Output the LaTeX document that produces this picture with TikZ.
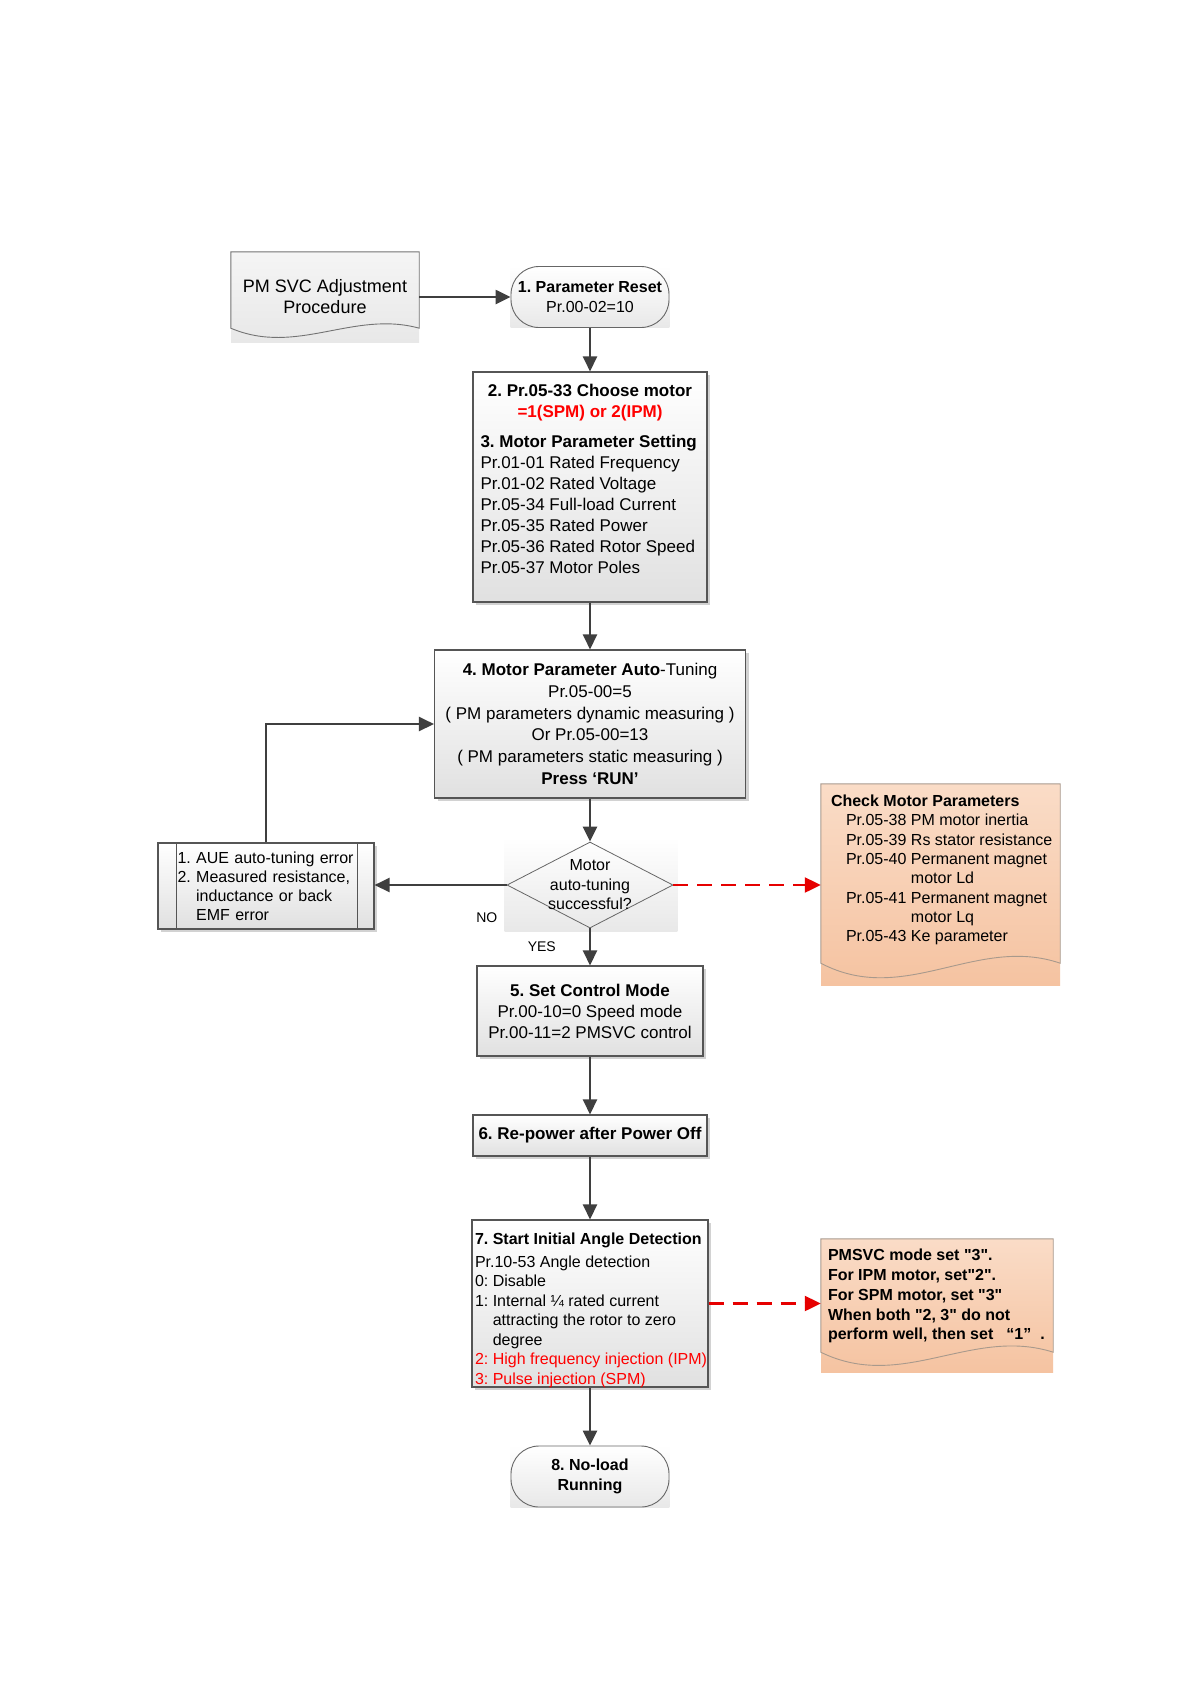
\documentclass[tikz,border=0pt]{standalone}
\usepackage{fontspec}
\setmainfont{Liberation Sans}
\usepackage{xcolor}
\usetikzlibrary{arrows.meta,shapes.geometric,shadows,backgrounds,calc,positioning}
\definecolor{linegray}{HTML}{3F3F3F}
\definecolor{boxgray}{HTML}{555555}
\definecolor{peachtop}{HTML}{FADCC7}
\definecolor{peachbottom}{HTML}{F5C3A1}
\definecolor{peachedge}{HTML}{A8998C}
\definecolor{flowred}{HTML}{E60000}
\tikzset{
    process-box/.style = {draw=boxgray, line width=1.1pt, rectangle, top color=white, bottom color=black!12, drop shadow={shadow xshift=3pt, shadow yshift=-3pt, opacity=0.5, fill=black!35}, inner sep=0pt, font=\fontsize{17}{21}\selectfont},
    term-box/.style = {draw=black!60, line width=0.9pt, rectangle, rounded corners=28pt, minimum width=158pt, minimum height=61pt, inner sep=0pt, align=center, font=\fontsize{16}{20}\selectfont},
    decision-box/.style = {draw=black!60, line width=0.8pt, diamond, minimum width=166pt, minimum height=86pt, inner sep=0pt},
    decision-text/.style = {align=center, inner sep=0pt, font=\fontsize{16}{19.5}\selectfont},
    doc-box/.style = {rectangle, inner sep=0pt},
    gray-doc/.style = {top color=black!4, bottom color=black!9},
    peach-doc/.style = {top color=peachtop, bottom color=peachbottom},
    doc-line/.style = {draw=black!55, line width=0.9pt},
    peach-line/.style = {draw=peachedge, line width=0.9pt},
    bg-shade/.style = {top color=white, bottom color=black!9},
    flow-arrow/.style = {draw=linegray, line width=2.4pt, -{Triangle[length=15pt, width=14pt]}},
    check-arrow/.style = {draw=flowred, line width=2.2pt, dash pattern=on 15pt off 9pt, -{Triangle[length=16pt, width=15pt]}},
    answer-label/.style = {inner sep=0pt, font=\fontsize{14}{16}\selectfont},
}
\newcommand{\docoutline}[3]{%
    \draw[#1] (#2.north west) -- ($(#2.south west)+(0,-#3)$)
        .. controls ($(#2.south west)!0.35!(#2.south east)+(0,#3)$) and ($(#2.south west)!0.65!(#2.south east)+(0,-2.3*#3)$)
        .. ($(#2.south east)+(0,-#3)$) -- (#2.north east) -- cycle;}
\newcommand{\dq}{\textquotedbl}

\begin{document}
\frenchspacing
\begin{tikzpicture}[x=1pt,y=-1pt]
\useasboundingbox (0,0) rectangle (1190,1684);

\node[doc-box, gray-doc, minimum width=188pt, minimum height=90pt, align=center, font=\fontsize{18}{21}\selectfont] (start) at (325,297) {PM SVC Adjustment\\Procedure};
\docoutline{doc-line}{start}{14}

\node[term-box] (reset) at (590,297) {\textbf{1. Parameter Reset}\\Pr.00-02=10};

\node[process-box, inner xsep=7.5pt, inner ysep=12.5pt] (motor) at (590,487) {\begin{minipage}[c][205pt][t]{219pt}
    \centering\textbf{2. Pr.05-33 Choose motor}\\
    \textcolor{red}{\textbf{=1(SPM) or 2(IPM)}}\par
    \vspace{9pt}
    \raggedright\textbf{3. Motor Parameter Setting}\\
    Pr.01-01 Rated Frequency\\
    Pr.01-02 Rated Voltage\\
    Pr.05-34 Full-load Current\\
    Pr.05-35 Rated Power\\
    Pr.05-36 Rated Rotor Speed\\
    Pr.05-37 Motor Poles
\end{minipage}};

\node[process-box, minimum width=311pt, minimum height=148pt, align=center, font=\fontsize{17}{21.8}\selectfont] (tune) at (590,724) {\textbf{4. Motor Parameter Auto}-Tuning\\Pr.05-00=5\\( PM parameters dynamic measuring )\\Or Pr.05-00=13\\( PM parameters static measuring )\\\textbf{Press `RUN'}};

\node[decision-box] (dec) at (590,885) {};
\node[decision-text] (dec-text) at (dec) {Motor\\auto-tuning\\successful?};

\node[process-box, minimum width=216pt, minimum height=86pt, text width=177pt, inner xsep=19.5pt, align=left, font=\fontsize{16}{19}\selectfont] (err) at (266,886) {\mbox{1. AUE auto-tuning error}\\\mbox{2. Measured resistance,}\\\phantom{2.} inductance or back\\\phantom{2.} EMF error};
\draw[draw=boxgray, line width=1.1pt] ($(err.north west)+(19,0)$) -- ($(err.south west)+(19,0)$);
\draw[draw=boxgray, line width=1.1pt] ($(err.north east)+(-17,0)$) -- ($(err.south east)+(-17,0)$);

\node[doc-box, peach-doc, inner xsep=10pt, inner ysep=11pt, font=\fontsize{16}{19.3}\selectfont] (check) at (940.5,884.5) {\begin{minipage}[c][179pt][t]{219pt}
    \textbf{Check Motor Parameters}\\
    \hspace*{15pt}\begin{tabular}[t]{@{}l@{\hspace{4.5pt}}l@{}}
    Pr.05-38 & PM motor inertia\\
    Pr.05-39 & Rs stator resistance\\
    Pr.05-40 & Permanent magnet\\
             & motor Ld\\
    Pr.05-41 & Permanent magnet\\
             & motor Lq\\
    Pr.05-43 & Ke parameter
    \end{tabular}
\end{minipage}};
\docoutline{peach-line}{check}{22}

\node[process-box, minimum width=226pt, minimum height=90pt, align=center] (mode) at (590,1011) {\textbf{5. Set Control Mode}\\Pr.00-10=0 Speed mode\\Pr.00-11=2 PMSVC control};

\node[process-box, minimum width=234pt, minimum height=41pt, font=\bfseries\fontsize{17}{21}\selectfont] (repower) at (590,1135.5) {6. Re-power after Power Off};

\node[process-box, inner xsep=3pt, inner ysep=13pt, font=\fontsize{16}{19.5}\selectfont] (angle) at (590,1303.5) {\begin{minipage}[c][141pt][t]{230pt}
    \textbf{7. Start Initial Angle Detection}\\[3pt]
    Pr.10-53 Angle detection\\
    0: Disable\\
    1: Internal ¼ rated current\\
    \phantom{1:} attracting the rotor to zero\\
    \phantom{1:} degree\\
    \textcolor{red}{\mbox{2: High frequency injection (IPM)}}\\
    \textcolor{red}{\mbox{3: Pulse injection (SPM)}}
\end{minipage}};

\node[doc-box, peach-doc, inner xsep=7pt, inner ysep=10pt, font=\bfseries\fontsize{16}{19.8}\selectfont] (pmsvc) at (937,1305.5) {\begin{minipage}[c][113pt][t]{218pt}
    PMSVC mode set \dq3\dq.\\
    For IPM motor, set\dq2\dq.\\
    For SPM motor, set \dq3\dq\\
    When both \dq2, 3\dq\ do not\\
    \mbox{perform well, then set\hspace{13pt}“1”\hspace{9pt}.}
\end{minipage}};
\docoutline{peach-line}{pmsvc}{20}

\node[term-box, font=\bfseries\fontsize{16}{20}\selectfont] (run) at (590,1476.5) {8. No-load\\Running};

\begin{scope}[on background layer]
    \fill[white] (0,0) rectangle (1190,1684);
    \shade[bg-shade] (reset.north west) rectangle (reset.south east);
    \shade[bg-shade] (run.north west) rectangle (run.south east);
    \shade[bg-shade] ($(dec.north -| dec.west)+(-2,-4)$) rectangle ($(dec.south -| dec.east)+(4,3)$);
\end{scope}

\draw[flow-arrow] (start.east) -- (reset.west);
\draw[flow-arrow] (reset.south) -- (motor.north);
\draw[flow-arrow] (motor.south) -- (tune.north);
\draw[flow-arrow] (tune.south) -- (dec.north);
\draw[flow-arrow] (dec.west) -- node[answer-label, pos=0.15, below=27pt] (no-label) {NO} (dec.west -| err.east);
\draw[flow-arrow] (err.north) |- (tune.west);
\draw[flow-arrow] (dec.south) -- node[answer-label, pos=0.5, left=33pt] (yes-label) {YES} (mode.north);
\draw[check-arrow] (dec.east) -- (dec.east -| check.west);
\draw[flow-arrow] (mode.south) -- (repower.north);
\draw[flow-arrow] (repower.south) -- (angle.north);
\draw[check-arrow] (angle.east) -- (angle.east -| pmsvc.west);
\draw[flow-arrow] (angle.south) -- (run.north);
\end{tikzpicture}
\end{document}
